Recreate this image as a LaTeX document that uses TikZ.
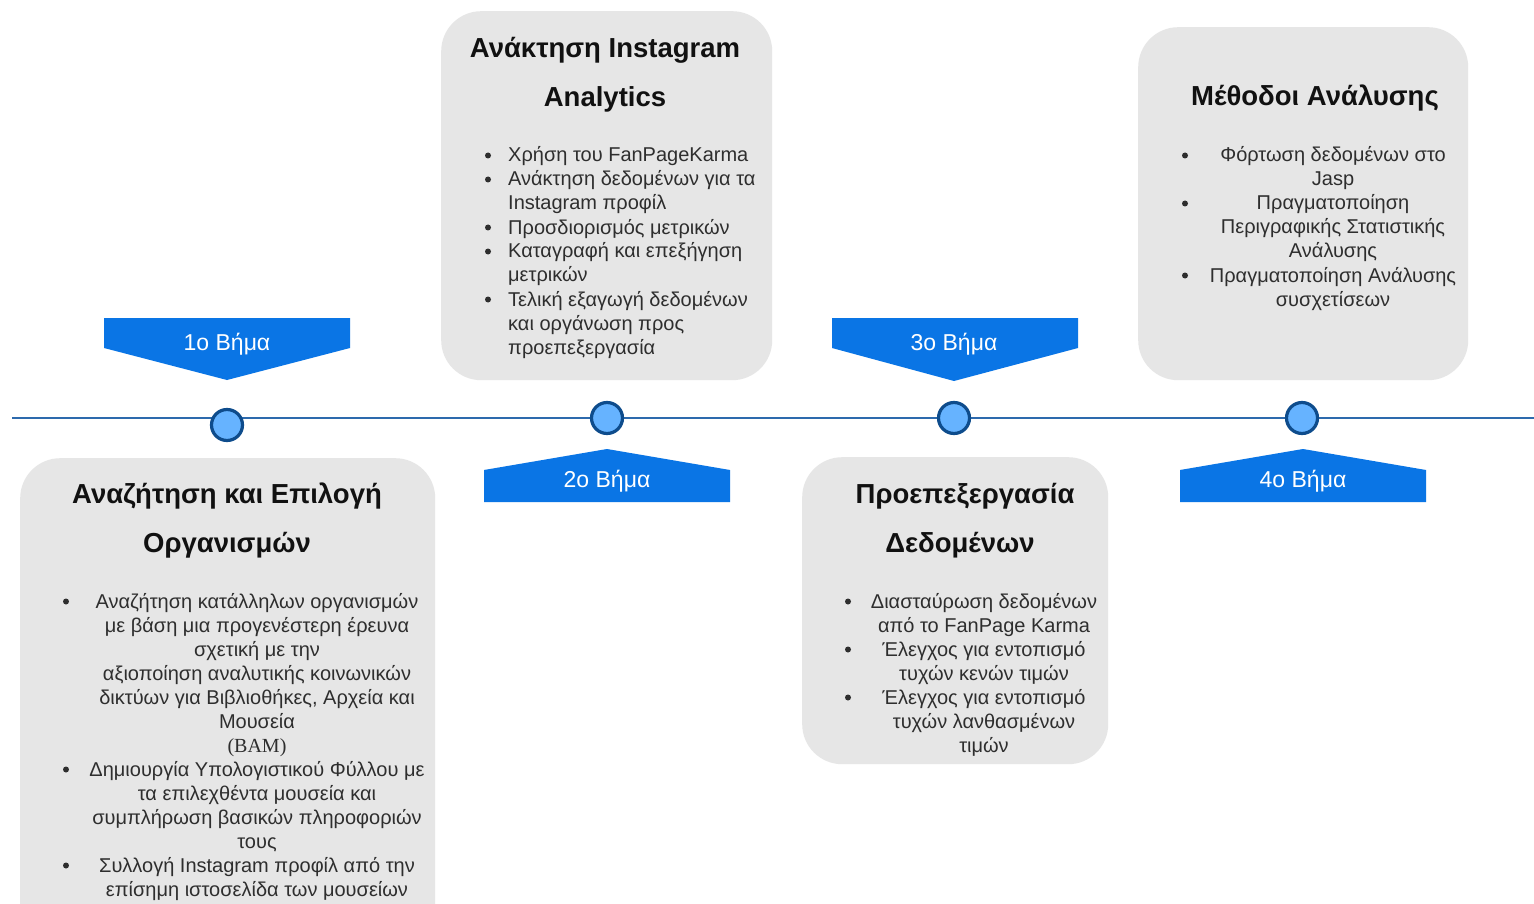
\documentclass[tikz,border=0pt]{standalone}
\usepackage{fontspec}
\setmainfont{Liberation Sans}
\newfontfamily\bamfont{Liberation Serif}
\definecolor{boxgray}{HTML}{E6E6E6}
\definecolor{bannerblue}{HTML}{0A75E5}
\definecolor{linecol}{HTML}{2D6AAD}
\definecolor{dotfill}{HTML}{66B3FF}
\definecolor{dotdraw}{HTML}{0E4C8C}
\definecolor{titletext}{HTML}{111111}
\definecolor{bodytext}{HTML}{2E2E2E}
\tikzset{
  box/.style={fill=boxgray, draw=none, rounded corners=40pt, inner sep=0pt, anchor=north west},
  banner/.style={fill=bannerblue, draw=none},
  tline/.style={draw=linecol, line width=2.5pt},
  dot/.style={circle, fill=dotfill, draw=dotdraw, line width=3.2pt, minimum size=31pt, inner sep=0pt},
  steplbl/.style={anchor=base, text=white, inner sep=0pt, font=\fontsize{23}{27}\selectfont},
  ttl/.style={anchor=base, text=titletext, inner sep=0pt, font=\fontsize{27.5}{33}\selectfont\bfseries},
  body/.style={text=bodytext, inner sep=0pt, font=\fontsize{20}{24}\selectfont},
  bul/.style={circle, fill=bodytext, inner sep=0pt, minimum size=6pt},
}
\newcommand\itemc[5]{%
  \node[bul] (#1b) at (#2,#4-6.5) {};
  \node[body, anchor=base] (#1) at (#3,#4) {\begin{tabular}[t]{@{}c@{}}#5\end{tabular}};}
\newcommand\iteml[5]{%
  \node[bul] (#1b) at (#2,#4-6.5) {};
  \node[body, anchor=base west] (#1) at (#3,#4) {\begin{tabular}[t]{@{}l@{}}#5\end{tabular}};}
\begin{document}
\begin{tikzpicture}[x=1pt,y=-1pt]
\clip (0,0) rectangle (1534,904);
\fill[white] (0,0) rectangle (1534,904);

% boxes
\node[box, minimum width=415pt, minimum height=520pt] (box1) at (20,458) {};
\node[box, minimum width=331pt, minimum height=369pt] (box2) at (441,11) {};
\node[box, minimum width=306pt, minimum height=307pt] (box3) at (802,457) {};
\node[box, minimum width=330pt, minimum height=353pt] (box4) at (1138,27) {};

% timeline
\coordinate (tlL) at (12,418);
\coordinate (tlR) at (1540,418);
\draw[tline] (tlL) -- (tlR);
\node[dot] (d1) at (227,425) {};
\node[dot] (d2) at (607,418) {};
\node[dot] (d3) at (954,418) {};
\node[dot] (d4) at (1302,418) {};

% banners
\fill[banner] (104,318) -- (350,318) -- (350,348) -- (227,380) -- (104,348) -- cycle;
\fill[banner] (832,318) -- (1078,318) -- (1078,348) -- (954,381) -- (832,348) -- cycle;
\fill[banner] (484,502) -- (730,502) -- (730,470) -- (607,449) -- (484,470) -- cycle;
\fill[banner] (1180,502) -- (1426,502) -- (1426,470) -- (1303,449) -- (1180,470) -- cycle;
\node[steplbl] (s1) at (227,350) {1ο Βήμα};
\node[steplbl] (s2) at (607,487) {2ο Βήμα};
\node[steplbl] (s3) at (954,350) {3ο Βήμα};
\node[steplbl] (s4) at (1303,487) {4ο Βήμα};

% titles
\node[ttl] (t1a) at (227,503) {Αναζήτηση και Επιλογή};
\node[ttl] (t1b) at (227,552) {Οργανισμών};
\node[ttl] (t2a) at (605,58) {Ανάκτηση Instagram};
\node[ttl] (t2b) at (605,107) {Analytics};
\node[ttl] (t3a) at (965,503) {Προεπεξεργασία};
\node[ttl] (t3b) at (960,552) {Δεδομένων};
\node[ttl] (t4a) at (1315,106) {Μέθοδοι Ανάλυσης};

% box 1 items
\itemc{a1}{66}{257}{608}{Αναζήτηση κατάλληλων οργανισμών\\με βάση μια προγενέστερη έρευνα\\σχετική με την\\αξιοποίηση αναλυτικής κοινωνικών\\δικτύων για Βιβλιοθήκες, Αρχεία και\\Μουσεία\\{\bamfont (BAM)}}
\itemc{a2}{66}{257}{776}{Δημιουργία Υπολογιστικού Φύλλου με\\τα επιλεχθέντα μουσεία και\\συμπλήρωση βασικών πληροφοριών\\τους}
\itemc{a3}{66}{257}{872}{Συλλογή Instagram προφίλ από την\\επίσημη ιστοσελίδα των μουσείων}

% box 2 items
\iteml{b1}{488}{508}{162}{Χρήση του FanPageKarma}
\iteml{b2}{488}{508}{186}{Ανάκτηση δεδομένων για τα\\Instagram προφίλ}
\iteml{b3}{488}{508}{234}{Προσδιορισμός μετρικών}
\iteml{b4}{488}{508}{258}{Καταγραφή και επεξήγηση\\μετρικών}
\iteml{b5}{488}{508}{306}{Τελική εξαγωγή δεδομένων\\και οργάνωση προς\\προεπεξεργασία}

% box 3 items
\itemc{c1}{848}{984}{608}{Διασταύρωση δεδομένων\\από το FanPage Karma}
\itemc{c2}{848}{984}{656}{Έλεγχος για εντοπισμό\\τυχών κενών τιμών}
\itemc{c3}{848}{984}{704}{Έλεγχος για εντοπισμό\\τυχών λανθασμένων\\τιμών}

% box 4 items
\itemc{e1}{1185}{1333}{162}{Φόρτωση δεδομένων στο\\Jasp}
\itemc{e2}{1185}{1333}{210}{Πραγματοποίηση\\Περιγραφικής Στατιστικής\\Ανάλυσης}
\itemc{e3}{1185}{1333}{282}{Πραγματοποίηση Ανάλυσης\\συσχετίσεων}
\end{tikzpicture}
\end{document}
